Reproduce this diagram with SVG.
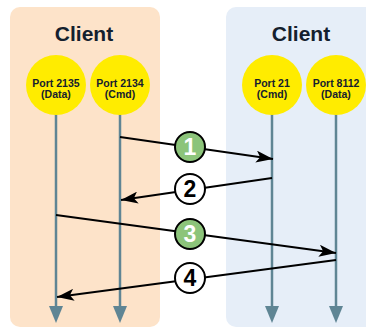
<svg xmlns="http://www.w3.org/2000/svg" width="366" height="328" viewBox="0 0 366 328">
<style>
.title{font-family:"Liberation Sans",Arial,sans-serif;font-size:21px;font-weight:bold;fill:#14202e;text-anchor:middle}
.port{font-family:"Liberation Sans",Arial,sans-serif;font-size:10.5px;font-weight:bold;fill:#14202e;text-anchor:middle}
.yc{fill:#ffec00}
.life{stroke:#5f8594;stroke-width:2.5;fill:none}
.msg{stroke:#000;stroke-width:2;fill:none;marker-end:url(#ah)}
.num{font-family:"Liberation Sans",Arial,sans-serif;font-size:23px;font-weight:bold;text-anchor:middle}
.cg{fill:#8cc47a;stroke:#000;stroke-width:2}
.cw{fill:#fff;stroke:#000;stroke-width:2}
</style>
<defs>
<marker id="ah" markerUnits="userSpaceOnUse" markerWidth="18" markerHeight="12" refX="17" refY="6" orient="auto">
<path d="M0,0 L17,6 L0,12 L4,6 Z" fill="#000"/>
</marker>
</defs>
<rect x="10" y="7" width="150" height="320" rx="10" fill="#fde3c9"/>
<rect x="226" y="7" width="150" height="320" rx="10" fill="#e6eef8"/>
<text class="title" x="84" y="41">Client</text>
<text class="title" x="301" y="41">Client</text>
<g id="lifelines">
<line class="life" x1="56" y1="114" x2="56" y2="306"/>
<line class="life" x1="120" y1="114" x2="120" y2="306"/>
<line class="life" x1="272" y1="114" x2="272" y2="306"/>
<line class="life" x1="336" y1="114" x2="336" y2="306"/>
<path d="M49,306 L63,306 L56,323 Z" fill="#5f8594"/>
<path d="M113,306 L127,306 L120,323 Z" fill="#5f8594"/>
<path d="M265,306 L279,306 L272,323 Z" fill="#5f8594"/>
<path d="M329,306 L343,306 L336,323 Z" fill="#5f8594"/>
</g>
<g id="port2135"><circle class="yc" cx="56" cy="85" r="30"/><text class="port" x="56" y="87">Port 2135</text><text class="port" x="56" y="98">(Data)</text></g>
<g id="port2134"><circle class="yc" cx="120" cy="85" r="30"/><text class="port" x="120" y="87">Port 2134</text><text class="port" x="120" y="98">(Cmd)</text></g>
<g id="port21"><circle class="yc" cx="272" cy="85" r="30"/><text class="port" x="272" y="87">Port 21</text><text class="port" x="272" y="98">(Cmd)</text></g>
<g id="port8112"><circle class="yc" cx="336" cy="85" r="30"/><text class="port" x="336" y="87">Port 8112</text><text class="port" x="336" y="98">(Data)</text></g>
<g id="connectors">
<line class="msg" x1="120" y1="137" x2="273" y2="159"/>
<line class="msg" x1="272" y1="178" x2="121" y2="200"/>
<line class="msg" x1="56" y1="215" x2="336" y2="253"/>
<line class="msg" x1="336" y1="260" x2="57" y2="297"/>
</g>
<g id="step1"><circle class="cg" cx="190" cy="147" r="15"/><text class="num" x="190" y="155" fill="#fff">1</text></g>
<g id="step2"><circle class="cw" cx="190" cy="189" r="15"/><text class="num" x="190" y="197" fill="#000">2</text></g>
<g id="step3"><circle class="cg" cx="190" cy="234" r="15"/><text class="num" x="190" y="242" fill="#fff">3</text></g>
<g id="step4"><circle class="cw" cx="190" cy="278" r="15"/><text class="num" x="190" y="286" fill="#000">4</text></g>
</svg>
